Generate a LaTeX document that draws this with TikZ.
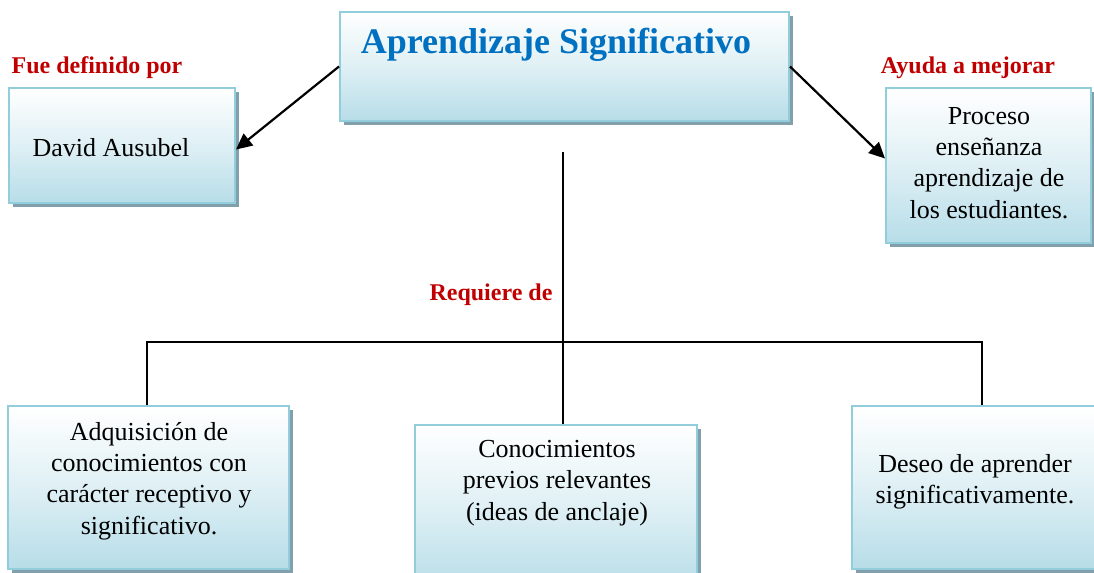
\documentclass[tikz,border=0pt]{standalone}
\usepackage{fontspec}
\setmainfont{Liberation Serif}
\usetikzlibrary{fit,shadows,arrows.meta}
\definecolor{boxborder}{RGB}{146,205,220}
\definecolor{boxbottom}{RGB}{183,221,232}
\definecolor{boxshadow}{RGB}{130,160,172}
\definecolor{titleblue}{RGB}{0,112,192}
\definecolor{labelred}{RGB}{192,0,0}
\tikzset{
  conceptbox/.style={draw=boxborder, line width=1pt, inner sep=0pt,
    top color=white, bottom color=boxbottom, middle color=boxbottom!45,
    drop shadow={shadow xshift=1.8pt, shadow yshift=-1.8pt, fill=boxshadow, opacity=1}},
  boxtext/.style={align=center, font=\fontsize{13}{15.6}\selectfont, inner sep=0pt},
  reltext/.style={font=\fontsize{12}{14}\selectfont\bfseries, text=labelred, inner sep=0pt},
  connector/.style={line width=1pt, black},
  arrowline/.style={line width=1.1pt, black, -{Triangle[length=8pt,width=7.5pt]}}
}
\begin{document}
\begin{tikzpicture}[x=0.5pt,y=-0.5pt]
\useasboundingbox (0,0) rectangle (1094,573);
% boxes
\node[conceptbox, fit={(340,12) (789,121)}] (title) {};
\node[conceptbox, fit={(9,88) (235,203)}] (david) {};
\node[conceptbox, fit={(886,88) (1091,243)}] (proceso) {};
\node[conceptbox, fit={(8,406) (289,569)}] (adq) {};
\node[conceptbox, fit={(415,425) (697,590)}] (conoc) {};
\node[conceptbox, fit={(852,406) (1100,569)}] (deseo) {};
% texts
\node[font=\fontsize{18}{21}\selectfont\bfseries, text=titleblue, inner sep=0pt] (titletext) at (556,45) {Aprendizaje Significativo};
\node[boxtext] (davidtext) at (111,148) {David Ausubel};
\node[boxtext] (procesotext) at (989,163) {Proceso\\enseñanza\\aprendizaje de\\los estudiantes.};
\node[boxtext] (adqtext) at (149,481) {Adquisición de\\conocimientos con\\carácter receptivo y\\significativo.};
\node[boxtext] (conoctext) at (557,483) {Conocimientos\\previos relevantes\\(ideas de anclaje)};
\node[boxtext] (deseotext) at (975,482) {Deseo de aprender\\significativamente.};
% relation labels
\node[reltext] (fue) at (97,68) {Fue definido por};
\node[reltext] (ayuda) at (968,68) {Ayuda a mejorar};
\node[reltext] (req) at (491,295) {Requiere de};
% connectors
\draw[arrowline] (title.west) -- ([yshift=-2pt]david.east);
\draw[arrowline] (title.east) -- ([yshift=3.5pt]proceso.west);
\coordinate (top) at (563,152);
\coordinate (hl) at (147,342);
\coordinate (hr) at (982,342);
\draw[connector] (top) -- (top |- conoc.north);
\draw[connector] (adq.north -| hl) -- (hl) -- (hr) -- (deseo.north -| hr);
\end{tikzpicture}
\end{document}
